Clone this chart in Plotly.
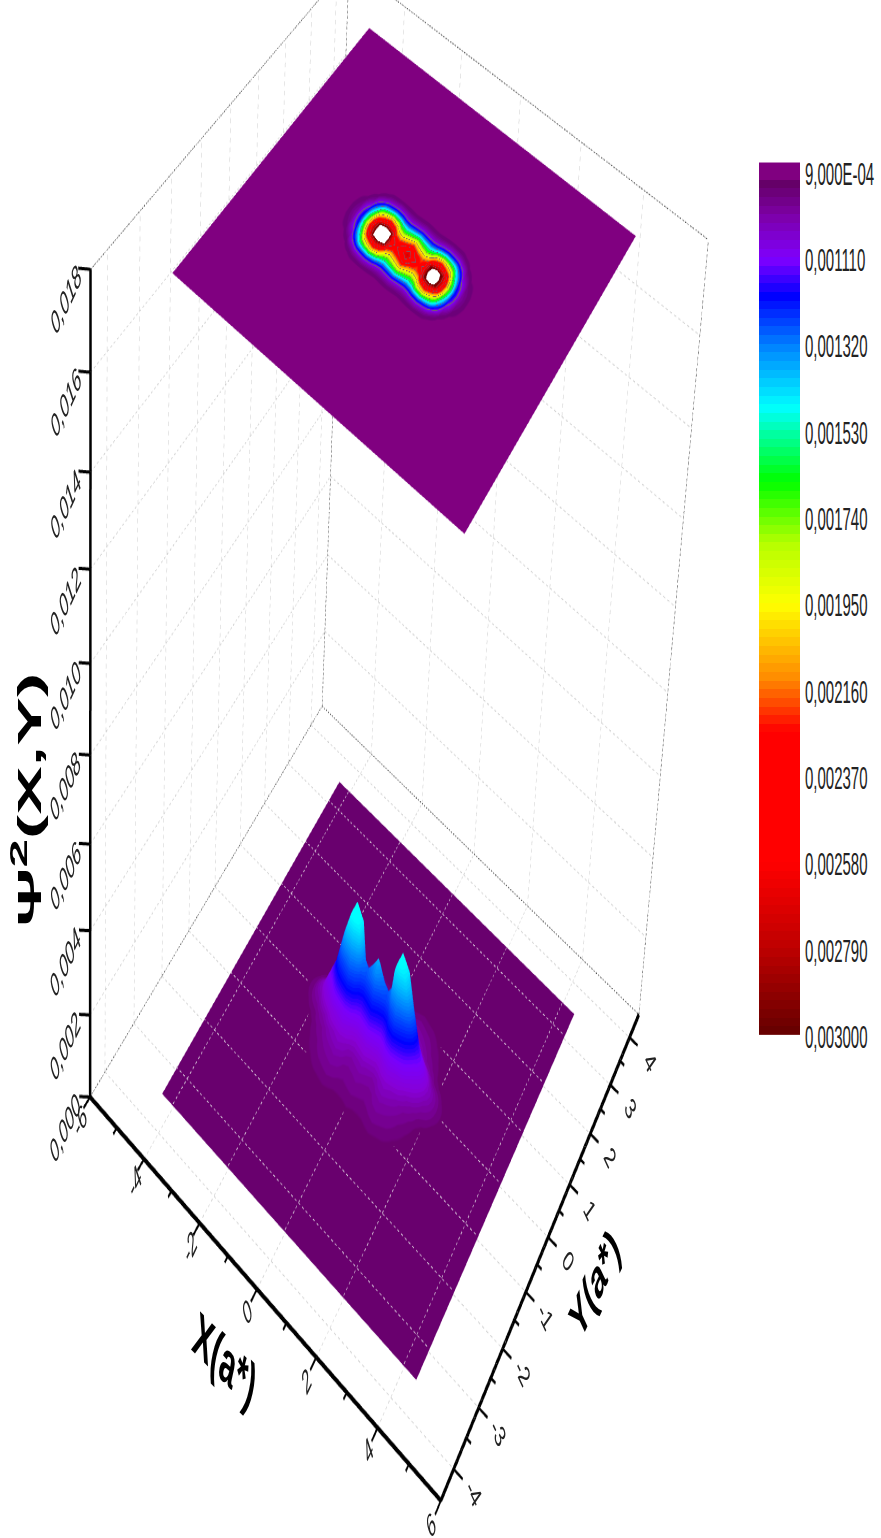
import numpy as np
import plotly.graph_objects as go

# ---- data (values in units of 1e-5) ----
x_lower_half = [0, .18, .36, .5, .63, .81, 1.0, 1.2, 1.45, 1.85, 2.2, 2.45, 2.7, 4.4]
x_upper_half = [0, .18, .36, .5, .63, .81, .98, 1.12, 1.26, 1.45, 1.65, 1.9, 2.2, 4.4]
y_lower_half = [0, .09, .18, .29, .38, .52, .72, .95, 1.15, 1.35, 3.5]
y_upper_half = [0, .13, .27, .40, .50, .58, .64, .70, .78, .88, 3.5]
psi_half = [
 [272,250,232,250,304,335,304,260,190,125,100,92,90,90],
 [254,234,222,234,300,318,300,243,180,122,99,92,90,90],
 [214,199,187,199,231,253,231,206,158,114,97,91,90,90],
 [174,164,155,164,186,200,186,168,136,104,94,91,90,90],
 [141,135,130,135,148,157,148,138,118,98,92,90,90,90],
 [119,116,113,116,123,128,123,117,106,95,91,90,90,90],
 [108,106,104,106,111,114,111,107,100,93,90,90,90,90],
 [101,100,99,100,102,104,102,100,96,92,90,90,90,90],
 [96,95,95,95,96,97,96,95,93,91,90,90,90,90],
 [92,92,91,92,92,92,92,92,91,90,90,90,90,90],
 [90,90,90,90,90,90,90,90,90,90,90,90,90,90],
]
right_peak_scale = 0.965
lower_height_scale = 1.3
upper_offset_x, upper_offset_y = -0.07, -0.08
x_major = [-6,-4,-2,0,2,4,6]
x_minor = [-5,-3,-1,1,3,5]
y_major = [-4,-3,-2,-1,0,1,2,3,4]
y_minor = [-3.5,-2.5,-1.5,-.5,.5,1.5,2.5,3.5]
z_major = [0,.002,.004,.006,.008,.010,.012,.014,.016,.018]
z_labels = ["0,000","0,002","0,004","0,006","0,008","0,010","0,012","0,014","0,016","0,018"]
cbar_ticks = [90,111,132,153,174,195,216,237,258,279,300]
cbar_labels = ["9,000E-04","0,001110","0,001320","0,001530","0,001740","0,001950","0,002160","0,002370","0,002580","0,002790","0,003000"]
main_anchor_v = [87.3,91.5,92,100,111,120,132,147,165,180,195,213,226,258,279,300]
main_anchor_c = [(128,0,128),(128,0,128),(100,0,100),(125,0,165),(128,0,255),(0,0,255),(0,130,255),(0,255,255),(0,255,0),(180,255,0),(255,255,0),(255,140,0),(255,0,0),(255,0,0),(190,0,0),(100,0,0)]
low_anchor_v = [90,105,130,165,195,240,272,310,333]
low_anchor_c = [(102,0,102),(120,0,150),(135,0,215),(120,0,255),(0,0,255),(0,110,255),(0,180,255),(0,255,255),(0,255,255)]
top_z = 0.018
base_level = 90

# ---- build grids ----
def mirror(h):
    return np.array([-v for v in h[:0:-1]] + list(h), float)
half = np.array(psi_half, float)
full_cols = np.hstack([half[:, :0:-1], half])
nh = half.shape[1]
full_cols[:, nh:] = base_level + (full_cols[:, nh:] - base_level) * right_peak_scale
psi = np.vstack([full_cols[:0:-1], full_cols])
x_low = mirror(x_lower_half)
y_low = mirror(y_lower_half)
x_up = mirror(x_upper_half); x_up[1:-1] += upper_offset_x
y_up = mirror(y_upper_half); y_up[1:-1] += upper_offset_y

def col(vs, cs, v):
    c = [np.interp(v, vs, [k[i] for k in cs]) for i in range(3)]
    return "rgb(%d,%d,%d)" % tuple(c)
def stepped(n, lo, hi, fn):
    out = []
    for i in range(n):
        v = lo + (hi - lo) * (i + .5) / n
        c = fn(v)
        out += [[i / n, c], [(i + 1) / n, c]]
    return out
UP_MIN, UP_CELLS, UP_STEP = 87.3, 120, 2.1
UP_MAX = UP_MIN + UP_CELLS * UP_STEP
def up_color(v):
    if v > 300: return "rgb(255,255,255)"
    if v < 94: return "rgb(128,0,128)"
    for k in range(1, 11):
        if abs(v - (90 + 21 * k)) < 1.05: return "rgb(120,90,110)"
    return col(main_anchor_v, main_anchor_c, v)
scale_up = stepped(UP_CELLS, UP_MIN, UP_MAX, up_color)
scale_low = stepped(45, 90, 333, lambda v: col(low_anchor_v, low_anchor_c, v))
scale_bar = stepped(101, 87.3, 300, lambda v: col(main_anchor_v, main_anchor_c, v))

surface_lift = 4e-5
plane_lift = 9e-5
light = dict(ambient=1, diffuse=0, specular=0, roughness=1, fresnel=0)
fig = go.Figure()
fig.add_trace(go.Surface(x=x_low, y=y_low, z=(psi - base_level) * 1e-5 * lower_height_scale + surface_lift, surfacecolor=psi, cmin=90, cmax=333, colorscale=scale_low,
                         showscale=False, lighting=light, hoverinfo='skip'))
fig.add_trace(go.Surface(x=x_up, y=y_up, z=np.full(psi.shape, top_z), surfacecolor=psi, cmin=UP_MIN, cmax=UP_MAX,
                         colorscale=scale_up, showscale=False, lighting=light, hoverinfo='skip'))

def segs(lst, **kw):
    xs, ys, zs = [], [], []
    for a, b in lst:
        xs += [a[0], b[0], None]; ys += [a[1], b[1], None]; zs += [a[2], b[2], None]
    return go.Scatter3d(x=xs, y=ys, z=zs, mode='lines', hoverinfo='skip', showlegend=False, **kw)
def dotted(lst, n):
    out = []
    for a, b in lst:
        a = np.array(a, float); b = np.array(b, float)
        for i in range(n):
            out.append((tuple(a + (b - a) * i / n), tuple(a + (b - a) * (i + .5) / n)))
    return out
X0, X1, Y0, Y1 = -6, 6, -4.5, 4.5
Z1 = .018
grid = []
for x in x_major:
    grid.append(((x, Y0, 0), (x, Y1, 0)))
    grid.append(((x, Y1, 0), (x, Y1, Z1)))
for y in y_major:
    grid.append(((X0, y, 0), (X1, y, 0)))
    grid.append(((X0, y, 0), (X0, y, Z1)))
for z in z_major[1:]:
    grid.append(((X0, Y0, z), (X0, Y1, z)))
    grid.append(((X0, Y1, z), (X1, Y1, z)))
fig.add_trace(segs(dotted(grid, 90), line=dict(color='rgb(205,205,205)', width=1)))
edges = [((X0,Y0,Z1),(X0,Y1,Z1)),((X0,Y1,Z1),(X1,Y1,Z1)),((X1,Y1,0),(X1,Y1,Z1)),((X0,Y1,0),(X0,Y1,Z1)),
         ((X0,Y0,0),(X0,Y1,0)),((X0,Y1,0),(X1,Y1,0))]
fig.add_trace(segs(dotted(edges, 150), line=dict(color='rgb(60,60,60)', width=1)))
plane_grid = []
for x in [-4,-2,0,2,4]:
    plane_grid.append(((x,-3.5,plane_lift),(x,3.5,plane_lift)))
for y in [-3,-2,-1,0,1,2,3]:
    plane_grid.append(((-4.4,y,plane_lift),(4.4,y,plane_lift)))
fig.add_trace(segs(dotted(plane_grid, 70), line=dict(color='rgb(225,215,225)', width=1)))
axes = [((X0,Y0,0),(X1,Y0,0)),((X1,Y0,0),(X1,Y1,0)),((X0,Y0,0),(X0,Y0,Z1))]
ticks = []
for x in x_major: ticks.append(((x,Y0,0),(x,Y0-.22,0)))
for x in x_minor: ticks.append(((x,Y0,0),(x,Y0-.12,0)))
for y in y_major: ticks.append(((X1,y,0),(X1+.28,y,0)))
for y in y_minor: ticks.append(((X1,y,0),(X1+.15,y,0)))
for z in z_major: ticks.append(((X0,Y0,z),(X0-.25,Y0-.14,z)))
fig.add_trace(segs(axes, line=dict(color='black', width=5)))
fig.add_trace(segs(ticks, line=dict(color='black', width=3)))

S = 2.127
PAGE_TOP = -1270.4
S_CMD = 2.149
PAGE_TOP_CMD = -1281.3
FIG_H = 1557
def py(page_y):
    return 1 - (page_y - PAGE_TOP) / S / FIG_H
tick_font = dict(family="Liberation Sans", size=15, color="#222222")
sa = []
def lab(t, x, y, z, dx, dy, ang):
    sa.append(dict(text="<i>%s</i>" % t, x=x, y=y, z=z, showarrow=False, xanchor='center', yanchor='middle',
                   xshift=dx, yshift=-dy / S, textangle=ang, font=tick_font))
for v in x_major: lab(str(v), v, Y0, 0, -10, 23, -45)
for v in y_major: lab(str(v), X1, v, 0, 20, 23, 45)
for v, t in zip(z_major, z_labels): lab(t, X0, Y0, v, -25, 30, -45)

annos = [
 dict(text="<b>X(a*)</b>", xref='paper', yref='paper', x=225/881, y=py(1355), xanchor='center', yanchor='middle', showarrow=False, textangle=25, font=dict(family="Liberation Sans", size=29, color="black")),
 dict(text="<b>Y(a*)</b>", xref='paper', yref='paper', x=594/881, y=py(1280), xanchor='center', yanchor='middle', showarrow=False, textangle=-45, font=dict(family="Liberation Sans", size=26, color="black")),
 dict(text="<b>Ψ<sup>2</sup>(X,Y)</b>", xref='paper', yref='paper', x=26/881, y=py(797), xanchor='center', yanchor='middle', showarrow=False, textangle=-90, font=dict(family="Liberation Sans", size=34, color="black")),
]
levels = np.array([87.3 + 2.1 * (i + .5) for i in range(101)])
fig.add_trace(go.Heatmap(z=levels.reshape(-1, 1), x=[0], y=levels, xaxis='x', yaxis='y', zmin=87.3, zmax=300,
                         colorscale=scale_bar, showscale=False, hoverinfo='skip'))
fig.update_layout(width=881, height=FIG_H, margin=dict(l=0, r=0, t=0, b=0), showlegend=False, paper_bgcolor='white', plot_bgcolor='white',
  xaxis=dict(domain=[759/881, 800/881], visible=False),
  yaxis=dict(domain=[py(1033), py(161)], range=[300, 87.3], side='right', anchor='x', tickmode='array', tickvals=cbar_ticks, ticktext=cbar_labels,
             ticks='outside', ticklen=1, tickcolor='white', showgrid=False, zeroline=False, showline=False,
             tickfont=dict(family="Liberation Sans", size=15, color="#222222")),
  annotations=annos,
  scene=dict(domain=dict(x=[0,1], y=[0,1]), aspectmode='manual', aspectratio=dict(x=1, y=1.0022, z=.9834),
    xaxis=dict(visible=False, range=[-6.5,6.5]), yaxis=dict(visible=False, range=[-5,5]), zaxis=dict(visible=False, range=[0,.018]),
    bgcolor='rgba(0,0,0,0)', annotations=sa,
    camera=dict(eye=dict(x=1.6614,y=-2.9007,z=2.3155), center=dict(x=0.0122,y=0.1289,z=0.2903), up=dict(x=-.3384,y=.3886,z=.857),
                projection=dict(type='perspective'))))
post = ("document.documentElement.style.overflow='hidden';document.body.style.margin='0';document.body.style.overflow='hidden';"
        "var g=document.querySelector('.plotly-graph-div');g.style.transformOrigin='0 0';"
        "g.style.transform='translateY(%.1fpx) scaleY(%.3f)';" % (PAGE_TOP_CMD, S_CMD))
fig.write_html("out.html", post_script=post, config=dict(displayModeBar=False))
